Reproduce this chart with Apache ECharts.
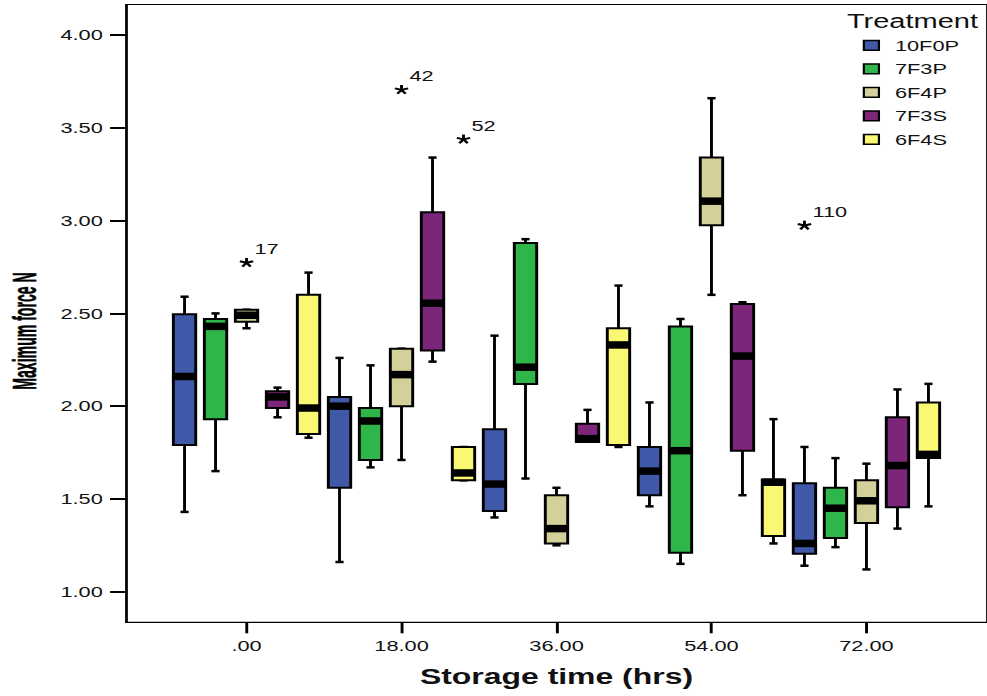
<!DOCTYPE html>
<html>
<head>
<meta charset="utf-8">
<script src="https://cdn.jsdelivr.net/npm/echarts@6/dist/echarts.min.js"></script>
<style>
  html, body { margin: 0; padding: 0; background: #fff; overflow: hidden; }
  /* the figure is laid out at 680px and widened to the 987px page */
  #chart { width: 680px; height: 696px; transform: scaleX(1.45147); transform-origin: 0 0; }
</style>
</head>
<body>
<div id="chart"></div>
<script>
// Storage time groups (hours)
const hours = [0, 18, 36, 54, 72];
const hourLabels = ['.00', '18.00', '36.00', '54.00', '72.00'];
const treatments = ['10F0P', '7F3P', '6F4P', '7F3S', '6F4S'];

// Box statistics per storage time: [min, Q1, median, Q3, max]
const stats10F0P = [
  [1.43, 1.79, 2.16, 2.495, 2.59],
  [1.16, 1.56, 2.00, 2.05, 2.26],
  [1.40, 1.435, 1.58, 1.875, 2.38],
  [1.46, 1.52, 1.65, 1.78, 2.02],
  [1.14, 1.205, 1.26, 1.585, 1.78]
];
const stats7F3P = [
  [1.65, 1.93, 2.43, 2.47, 2.50],
  [1.67, 1.71, 1.92, 1.99, 2.22],
  [1.61, 2.12, 2.21, 2.88, 2.90],
  [1.15, 1.21, 1.76, 2.43, 2.47],
  [1.24, 1.29, 1.45, 1.56, 1.72]
];
const stats6F4P = [
  [2.42, 2.455, 2.49, 2.52, 2.52],
  [1.71, 2.00, 2.17, 2.31, 2.31],
  [1.25, 1.26, 1.34, 1.52, 1.56],
  [2.60, 2.975, 3.105, 3.34, 3.66],
  [1.12, 1.37, 1.49, 1.60, 1.69]
];
const stats7F3S = [
  [1.94, 1.99, 2.05, 2.08, 2.10],
  [2.24, 2.30, 2.555, 3.045, 3.34],
  [1.81, 1.807, 1.825, 1.905, 1.98],
  [1.52, 1.76, 2.27, 2.55, 2.56],
  [1.34, 1.455, 1.68, 1.94, 2.09]
];
const stats6F4S = [
  [1.83, 1.85, 1.99, 2.60, 2.72],
  [1.60, 1.60, 1.64, 1.78, 1.78],
  [1.78, 1.79, 2.33, 2.42, 2.65],
  [1.26, 1.30, 1.59, 1.605, 1.93],
  [1.46, 1.72, 1.74, 2.02, 2.12]
];

// Extreme cases (case numbers shown beside the star)
const outlierHours = [0, 18, 18, 72];
const outlierTreatment = ['6F4P', '6F4P', '6F4S', '10F0P'];
const outlierValues = [2.773, 3.705, 3.438, 2.974];
const outlierCases = ['17', '42', '52', '110'];

const yTicks = [1.0, 1.5, 2.0, 2.5, 3.0, 3.5, 4.0];

const allStats = [stats10F0P, stats7F3P, stats6F4P, stats7F3S, stats6F4S];
const colors = ['#3F59A8', '#2EB64A', '#D4D09A', '#7C267A', '#FAF873'];
const offsets = [-7.2, -3.6, 0, 3.6, 7.2];   // cluster spacing in hours
const boxHours = 2.6;
const capHours = 0.95;
const FONT = '"Liberation Sans", Arial, sans-serif';
const INK = '#111';

function boxRender(k) {
  return function (params, api) {
    const x = api.value(0) + offsets[k];
    const pMin = api.coord([x, api.value(1)]);
    const pQ1 = api.coord([x, api.value(2)]);
    const pMed = api.coord([x, api.value(3)]);
    const pQ3 = api.coord([x, api.value(4)]);
    const pMax = api.coord([x, api.value(5)]);
    const cx = pMed[0];
    const halfW = api.size([boxHours, 0])[0] / 2;
    const capHalf = api.size([capHours, 0])[0] / 2;
    const line = (x1, y1, x2, y2, w) => ({
      type: 'line',
      shape: { x1, y1, x2, y2 },
      style: { stroke: '#000', lineWidth: w }
    });
    return {
      type: 'group',
      children: [
        line(cx, pQ3[1], cx, pMax[1], 2),
        line(cx, pQ1[1], cx, pMin[1], 2),
        line(cx - capHalf, pMax[1], cx + capHalf, pMax[1], 2.5),
        line(cx - capHalf, pMin[1], cx + capHalf, pMin[1], 2.5),
        {
          type: 'rect',
          shape: { x: cx - halfW, y: pQ3[1], width: halfW * 2, height: pQ1[1] - pQ3[1] },
          style: { fill: colors[k], stroke: '#000', lineWidth: 2 }
        },
        {
          type: 'rect',
          shape: { x: cx - halfW, y: pMed[1] - 3.75, width: halfW * 2, height: 7.5 },
          style: { fill: '#000' }
        }
      ]
    };
  };
}

const series = treatments.map((name, k) => ({
  name: name,
  type: 'custom',
  itemStyle: { color: colors[k] },
  renderItem: boxRender(k),
  encode: { x: 0, y: [1, 2, 3, 4, 5] },
  data: hours.map((h, i) => [h].concat(allStats[k][i])),
  z: 3
}));

// Extreme values drawn as asterisks with their case labels
series.push({
  name: 'extremes',
  type: 'custom',
  renderItem: function (params, api) {
    const p = api.coord([api.value(0), api.value(1)]);
    const r = 4.8;
    const arms = [];
    for (let a = 0; a < 5; a++) {
      const ang = (-90 + a * 72) * Math.PI / 180;
      arms.push({
        type: 'line',
        shape: { x1: p[0], y1: p[1], x2: p[0] + r * Math.cos(ang), y2: p[1] + r * Math.sin(ang) },
        style: { stroke: '#000', lineWidth: 2 }
      });
    }
    arms.push({
      type: 'text',
      style: {
        text: outlierCases[params.dataIndex],
        x: p[0] + 5.5, y: p[1] - 14,
        fill: INK, fontSize: 15, fontFamily: FONT,
        align: 'left', verticalAlign: 'middle'
      }
    });
    return { type: 'group', children: arms };
  },
  encode: { x: 0, y: 1 },
  data: outlierHours.map((h, i) => [h + offsets[treatments.indexOf(outlierTreatment[i])], outlierValues[i]]),
  z: 4
});

const chart = echarts.init(document.getElementById('chart'), null, { renderer: 'svg' });
chart.setOption({
  animation: false,
  backgroundColor: '#fff',
  textStyle: { fontFamily: FONT },
  grid: {
    left: 86.8, right: -1.4, top: 4.5, bottom: 73.7,
    show: true, borderColor: '#000', borderWidth: 1.2, backgroundColor: 'transparent'
  },
  title: {
    text: 'Treatment', left: 583.5, top: 11, padding: 0,
    textStyle: { fontSize: 20, fontWeight: 'normal', color: INK, fontFamily: FONT }
  },
  legend: {
    data: treatments,
    orient: 'vertical',
    left: 594.4, top: 37.8, padding: 0,
    itemWidth: 10.4, itemHeight: 9.8, itemGap: 8.5,
    icon: 'rect',
    itemStyle: { borderColor: '#000', borderWidth: 1.5 },
    textStyle: { fontSize: 15, color: INK, fontFamily: FONT, padding: [0, 0, 0, 6] },
    selectedMode: false
  },
  graphic: [{
    type: 'text',
    x: 17, y: 331,
    rotation: Math.PI / 2,
    scaleX: 0.6,
    style: {
      text: 'Maximum force N',
      fontSize: 23.5, fontWeight: 'bold', fontFamily: FONT,
      fill: '#000', stroke: '#000', lineWidth: 0.4,
      align: 'center', verticalAlign: 'middle'
    }
  }],
  xAxis: {
    type: 'value', min: -14, max: 86,
    name: 'Storage time (hrs)', nameLocation: 'middle', nameGap: 43,
    nameTextStyle: { fontSize: 22, fontWeight: 'bold', color: INK, fontFamily: FONT },
    axisLine: { show: true, onZero: false, lineStyle: { color: '#000', width: 1.2 } },
    axisTick: { show: true, customValues: hours, length: 11, lineStyle: { color: '#000', width: 2 } },
    axisLabel: {
      customValues: hours, margin: 16, fontSize: 15, color: INK, fontFamily: FONT,
      formatter: v => hourLabels[hours.indexOf(v)]
    },
    splitLine: { show: false }
  },
  yAxis: {
    type: 'value', min: 0.835, max: 4.165,
    axisLine: { show: true, onZero: false, lineStyle: { color: '#000', width: 1.2 } },
    axisTick: { show: true, customValues: yTicks, length: 11, lineStyle: { color: '#000', width: 2 } },
    axisLabel: {
      customValues: yTicks, margin: 16, fontSize: 15, color: INK, fontFamily: FONT,
      formatter: v => v.toFixed(2)
    },
    splitLine: { show: false }
  },
  series: series
});
</script>
</body>
</html>
